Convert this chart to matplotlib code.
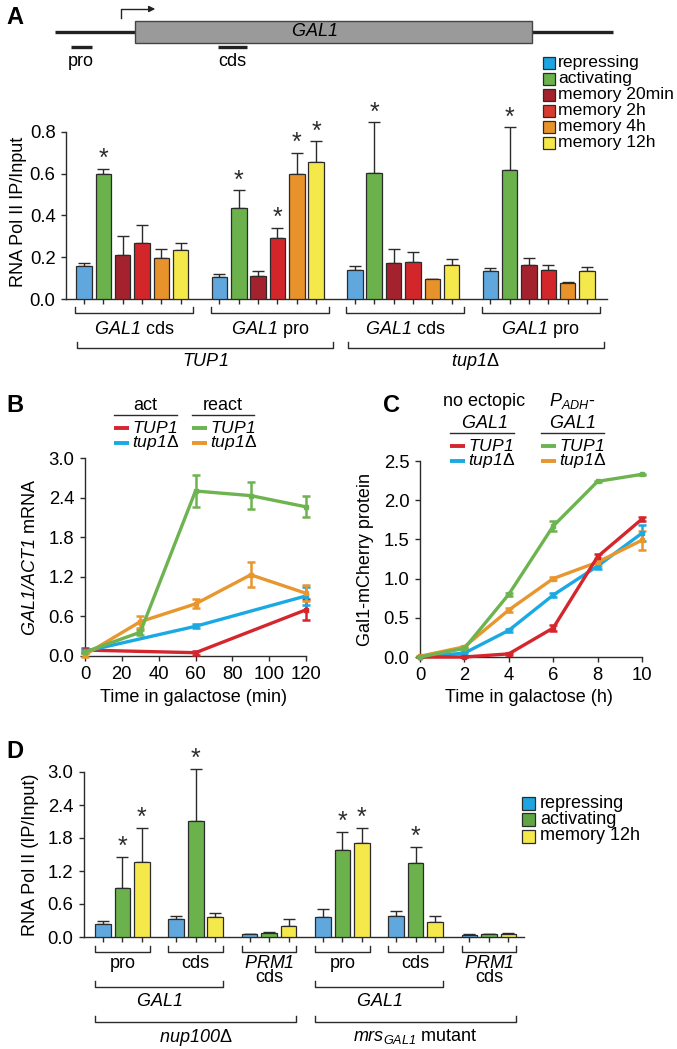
import matplotlib
matplotlib.use('Agg')
import matplotlib.pyplot as plt
import numpy as np
from matplotlib.patches import Rectangle
from matplotlib.transforms import blended_transform_factory

plt.rcParams['font.family'] = ['Liberation Sans', 'DejaVu Sans']
plt.rcParams['mathtext.fontset'] = 'custom'
plt.rcParams['mathtext.rm'] = 'Liberation Sans'
plt.rcParams['mathtext.it'] = 'Liberation Sans:italic'
plt.rcParams['mathtext.sf'] = 'Liberation Sans:italic'
plt.rcParams['mathtext.bf'] = 'Liberation Sans:bold'
plt.rcParams['font.size'] = 13

W, H = 677, 1049
INK = '#2b2b2b'

# ---- panel A : Pol II ChIP, TUP1 vs tup1 ----
a_conditions = ['repressing', 'activating', 'memory 20min', 'memory 2h', 'memory 4h', 'memory 12h']
a_sites = [r'$\mathsf{GAL1}$ cds', r'$\mathsf{GAL1}$ pro', r'$\mathsf{GAL1}$ cds', r'$\mathsf{GAL1}$ pro']
a_strains = [r'$\mathsf{TUP1}$', r'$\mathsf{tup1}$Δ']
a_repressing = [0.160, 0.107, 0.138, 0.134]
a_activating = [0.598, 0.435, 0.605, 0.618]
a_mem20 = [0.213, 0.110, 0.173, 0.162]
a_mem2h = [0.267, 0.294, 0.178, 0.138]
a_mem4h = [0.198, 0.597, 0.094, 0.078]
a_mem12h = [0.235, 0.658, 0.162, 0.136]
a_err_repressing = [0.014, 0.013, 0.019, 0.016]
a_err_activating = [0.026, 0.085, 0.241, 0.204]
a_err_mem20 = [0.087, 0.024, 0.067, 0.033]
a_err_mem2h = [0.088, 0.048, 0.048, 0.027]
a_err_mem4h = [0.042, 0.103, 0.004, 0.004]
a_err_mem12h = [0.035, 0.097, 0.032, 0.019]
# groups with a significance star, per condition
a_sig = [[], [0, 1, 2, 3], [], [1], [1], [1]]

# ---- panel B : GAL1/ACT1 mRNA ----
b_t_act = [0, 60, 120]
b_act_TUP1 = [0.09, 0.05, 0.70]
b_act_TUP1_err = [0.03, 0.03, 0.16]
b_act_tup1 = [0.07, 0.45, 0.91]
b_act_tup1_err = [0.03, 0.03, 0.13]
b_t_react = [0, 30, 60, 90, 120]
b_react_TUP1 = [0.06, 0.36, 2.50, 2.43, 2.26]
b_react_TUP1_err = [0.02, 0.04, 0.24, 0.20, 0.16]
b_react_tup1 = [0.02, 0.52, 0.79, 1.23, 0.95]
b_react_tup1_err = [0.03, 0.09, 0.07, 0.19, 0.12]

# ---- panel C : Gal1-mCherry protein ----
c_t = [0, 2, 4, 6, 8, 10]
c_no_TUP1 = [0.00, 0.00, 0.04, 0.37, 1.28, 1.76]
c_no_TUP1_err = [0.0, 0.0, 0.01, 0.04, 0.04, 0.03]
c_no_tup1 = [0.00, 0.05, 0.34, 0.79, 1.16, 1.58]
c_no_tup1_err = [0.0, 0.01, 0.02, 0.02, 0.04, 0.10]
c_adh_TUP1 = [0.00, 0.11, 0.80, 1.67, 2.24, 2.33]
c_adh_TUP1_err = [0.0, 0.01, 0.02, 0.06, 0.01, 0.01]
c_adh_tup1 = [0.01, 0.13, 0.60, 1.00, 1.21, 1.49]
c_adh_tup1_err = [0.0, 0.01, 0.02, 0.02, 0.05, 0.12]

# ---- panel D : Pol II ChIP, nup100 / mrs mutant ----
d_conditions = ['repressing', 'activating', 'memory 12h']
d_repressing = [0.24, 0.32, 0.05, 0.36, 0.38, 0.04]
d_activating = [0.90, 2.11, 0.08, 1.59, 1.35, 0.05]
d_mem12h = [1.37, 0.36, 0.20, 1.71, 0.27, 0.06]
d_err_repressing = [0.05, 0.07, 0.01, 0.15, 0.09, 0.01]
d_err_activating = [0.55, 0.94, 0.02, 0.32, 0.29, 0.01]
d_err_mem12h = [0.61, 0.08, 0.12, 0.28, 0.12, 0.02]
d_sig = [[], [0, 1, 3, 4], [0, 3]]

a_colors = ['#5fa7dd', '#6bb14c', '#a3222d', '#d3262b', '#e8922b', '#f5e84a']
a_leg_colors = ['#1ca5e0', '#6bb14c', '#a3222d', '#d93a30', '#e8922b', '#f5e84a']
d_colors = ['#5fa7dd', '#6bb14c', '#f5e84a']
d_leg_colors = ['#1ca5e0', '#5fa544', '#f5e84a']
RED, BLUE, GREEN, ORANGE = '#d4262c', '#1aa9e3', '#6db34f', '#e8962e'


def box(l, t, r, b):
    return [l / W, 1 - b / H, (r - l) / W, (b - t) / H]


fig = plt.figure(figsize=(W / 100, H / 100), dpi=100)
ov = fig.add_axes([0, 0, 1, 1])
ov.set_xlim(0, W)
ov.set_ylim(H, 0)
ov.axis('off')
ov.set_zorder(10)


def style(ax):
    ax.patch.set_visible(False)
    for s in ['top', 'right']:
        ax.spines[s].set_visible(False)
    for s in ['left', 'bottom']:
        ax.spines[s].set_color(INK)
        ax.spines[s].set_linewidth(1)
    ax.tick_params(direction='out', length=3.5, width=1, color=INK, pad=4, labelsize=13.3)


def bracket(ax, x0, x1, y, h=6):
    tr = blended_transform_factory(ax.transData, ov.transData)
    ov.plot([x0, x0, x1, x1], [y - h, y, y, y - h], transform=tr, color=INK, lw=1, clip_on=False)


def blabel(ax, x, y, s):
    tr = blended_transform_factory(ax.transData, ov.transData)
    ov.text(x, y, s, transform=tr, ha='center', va='center', fontsize=13)


def bars(ax, vals, errs, colors, sig, step):
    for i, (v, e, c) in enumerate(zip(vals, errs, colors)):
        x = np.arange(len(v)) * step + i
        ax.bar(x, v, 0.8, color=c, edgecolor=INK, lw=0.9, zorder=3)
        eb = ax.errorbar(x, v, yerr=[np.zeros(len(v)), e], fmt='none', ecolor=INK,
                         elinewidth=1, capsize=4, capthick=1, zorder=2)
        for art in list(eb.lines[1]) + list(eb.lines[2]):
            art.set_clip_on(False)
        for g in sig[i]:
            ax.annotate('*', (x[g], v[g] + e[g]), xytext=(0, -1.5), textcoords='offset points',
                        ha='center', va='bottom', fontsize=18, color=INK, annotation_clip=False)


# ================= A =================
ov.text(15, 18, 'A', fontsize=17, fontweight='bold', ha='center', va='center')
ov.plot([55, 613], [32, 32], color='#222222', lw=2.4, solid_capstyle='butt')
ov.add_patch(Rectangle((135, 21), 397, 22, facecolor='#9a9a9a', edgecolor='#444444', lw=1, zorder=3))
ov.text(314, 32, r'$\mathsf{GAL1}$', ha='center', va='center', fontsize=13, zorder=4)
ov.plot([121, 121, 150], [18, 9, 9], color='#222222', lw=1)
ov.annotate('', xy=(158, 9), xytext=(148, 9),
            arrowprops=dict(arrowstyle='-|>', color='#222222', lw=1, mutation_scale=9))
ov.plot([71, 92], [47, 47], color='#222222', lw=2.4, solid_capstyle='butt')
ov.plot([218, 247], [47, 47], color='#222222', lw=2.4, solid_capstyle='butt')
ov.text(81, 61, 'pro', ha='center', va='center')
ov.text(232, 61, 'cds', ha='center', va='center')
for i, (lab, c) in enumerate(zip(a_conditions, a_leg_colors)):
    y = 63 + 16.0 * i
    ov.add_patch(Rectangle((543, y - 6), 12, 12, facecolor=c, edgecolor=INK, lw=0.9))
    ov.text(558, y, lab, ha='left', va='center', fontsize=12.6)

axA = fig.add_axes(box(66, 132, 607, 299))
style(axA)
stepA = 7
bars(axA, [a_repressing, a_activating, a_mem20, a_mem2h, a_mem4h, a_mem12h],
     [a_err_repressing, a_err_activating, a_err_mem20, a_err_mem2h, a_err_mem4h, a_err_mem12h],
     a_colors, a_sig, stepA)
axA.set_xlim(-0.93, 27.03)
axA.set_ylim(0, 0.8)
axA.set_yticks(np.arange(0, 0.81, 0.2))
axA.set_yticklabels(['%.1f' % v for v in np.arange(0, 0.81, 0.2)])
axA.set_xticks([g * stepA + i for g in range(len(a_sites)) for i in range(len(a_conditions))])
axA.tick_params(axis='x', labelbottom=False)
ov.text(19, 212, 'RNA Pol II IP/Input', rotation=90, ha='center', va='center')
for g, lab in enumerate(a_sites):
    x0, x1 = g * stepA - 0.45, g * stepA + 5.65
    bracket(axA, x0, x1, 313)
    blabel(axA, (x0 + x1) / 2, 329, lab)
for k, lab in enumerate(a_strains):
    x0, x1 = 2 * k * stepA - 0.36, 2 * k * stepA + 12.85
    bracket(axA, x0, x1, 348)
    blabel(axA, (x0 + x1) / 2, 361, lab)

# ================= B =================
ov.text(15, 406, 'B', fontsize=17, fontweight='bold', ha='center', va='center')
axB = fig.add_axes(box(85, 458, 306, 656))
style(axB)
for t, v, e, c in [(b_t_act, b_act_TUP1, b_act_TUP1_err, RED),
                   (b_t_act, b_act_tup1, b_act_tup1_err, BLUE),
                   (b_t_react, b_react_tup1, b_react_tup1_err, ORANGE),
                   (b_t_react, b_react_TUP1, b_react_TUP1_err, GREEN)]:
    axB.errorbar(t, v, yerr=e, color=c, lw=2.4, marker='s', ms=3, capsize=3,
                 elinewidth=1.8, capthick=1.8, clip_on=False, zorder=3)
axB.set_xlim(0, 120)
axB.set_ylim(0, 3.0)
axB.set_xticks(range(0, 121, 20))
axB.set_yticks(np.arange(0, 3.01, 0.6))
axB.set_yticklabels(['%.1f' % v for v in np.arange(0, 3.01, 0.6)])
ov.text(31, 557, r'$\mathsf{GAL1/ACT1}$ mRNA', rotation=90, ha='center', va='center')
ov.text(194, 697, 'Time in galactose (min)', ha='center', va='center')
# legend
ov.text(145, 405, 'act', ha='center', va='center')
ov.text(223, 405, 'react', ha='center', va='center')
ov.plot([114, 177], [415, 415], color=INK, lw=1)
ov.plot([192, 254], [415, 415], color=INK, lw=1)
for x0, y, c, lab in [(114, 428, RED, r'$\mathsf{TUP1}$'), (114, 443, BLUE, r'$\mathsf{tup1}$Δ'),
                      (192, 428, GREEN, r'$\mathsf{TUP1}$'), (192, 443, ORANGE, r'$\mathsf{tup1}$Δ')]:
    ov.plot([x0, x0 + 15], [y, y], color=c, lw=2.8, solid_capstyle='butt')
    ov.text(x0 + 18, y, lab, ha='left', va='center', fontsize=12.6)

# ================= C =================
ov.text(392, 406, 'C', fontsize=17, fontweight='bold', ha='center', va='center')
axC = fig.add_axes(box(420, 461, 642, 657))
style(axC)
for v, e, c in [(c_no_tup1, c_no_tup1_err, BLUE), (c_adh_tup1, c_adh_tup1_err, ORANGE),
                (c_no_TUP1, c_no_TUP1_err, RED), (c_adh_TUP1, c_adh_TUP1_err, GREEN)]:
    axC.errorbar(c_t, v, yerr=e, color=c, lw=2.4, marker='s', ms=3, capsize=3,
                 elinewidth=1.8, capthick=1.8, clip_on=False, zorder=3)
axC.set_xlim(0, 10)
axC.set_ylim(0, 2.5)
axC.set_xticks(range(0, 11, 2))
axC.set_yticks(np.arange(0, 2.51, 0.5))
axC.set_yticklabels(['%.1f' % v for v in np.arange(0, 2.51, 0.5)])
ov.text(366, 559, 'Gal1-mCherry protein', rotation=90, ha='center', va='center')
ov.text(529, 697, 'Time in galactose (h)', ha='center', va='center')
ov.text(484, 401, 'no ectopic', ha='center', va='center')
ov.text(484, 423, r'$\mathsf{GAL1}$', ha='center', va='center')
ov.text(572, 401, r'$\mathsf{P}_{\mathsf{ADH}}$-', ha='center', va='center')
ov.text(572, 423, r'$\mathsf{GAL1}$', ha='center', va='center')
ov.plot([450, 514], [433, 433], color=INK, lw=1)
ov.plot([541, 604], [433, 433], color=INK, lw=1)
for x0, y, c, lab in [(450, 446, RED, r'$\mathsf{TUP1}$'), (450, 461, BLUE, r'$\mathsf{tup1}$Δ'),
                      (541, 446, GREEN, r'$\mathsf{TUP1}$'), (541, 461, ORANGE, r'$\mathsf{tup1}$Δ')]:
    ov.plot([x0, x0 + 15], [y, y], color=c, lw=2.8, solid_capstyle='butt')
    ov.text(x0 + 18, y, lab, ha='left', va='center', fontsize=12.6)

# ================= D =================
ov.text(15, 751, 'D', fontsize=17, fontweight='bold', ha='center', va='center')
axD = fig.add_axes(box(84, 772, 524, 937))
style(axD)
stepD = 3.76
bars(axD, [d_repressing, d_activating, d_mem12h],
     [d_err_repressing, d_err_activating, d_err_mem12h], d_colors, d_sig, stepD)
axD.set_xlim(-0.97, 21.6)
axD.set_ylim(0, 3.0)
axD.set_yticks(np.arange(0, 3.01, 0.6))
axD.set_yticklabels(['%.1f' % v for v in np.arange(0, 3.01, 0.6)])
axD.set_xticks([g * stepD + i for g in range(6) for i in range(3)])
axD.tick_params(axis='x', labelbottom=False)
ov.text(31, 855, 'RNA Pol II (IP/Input)', rotation=90, ha='center', va='center')
for i, c in enumerate(d_conditions):
    y = 803 + 16.5 * i
    ov.add_patch(Rectangle((522, y - 6.5), 13, 13, facecolor=d_leg_colors[i], edgecolor=INK, lw=0.9))
    ov.text(540, y, c, ha='left', va='center')
d_sites = ['pro', 'cds', None, 'pro', 'cds', None]
for g, lab in enumerate(d_sites):
    x0, x1 = g * stepD - 0.4, g * stepD + 2.4
    bracket(axD, x0, x1, 952)
    if lab:
        blabel(axD, (x0 + x1) / 2, 963, lab)
    else:
        blabel(axD, (x0 + x1) / 2, 963, r'$\mathsf{PRM1}$')
        blabel(axD, (x0 + x1) / 2, 978, 'cds')
for k in range(2):
    x0, x1 = 3 * k * stepD - 0.4, (3 * k + 1) * stepD + 2.4
    bracket(axD, x0, x1, 987)
    blabel(axD, (x0 + x1) / 2, 1002, r'$\mathsf{GAL1}$')
d_strains = [r'$\mathsf{nup100}$Δ', r'$\mathsf{mrs}_{\mathsf{GAL1}}$ mutant']
for k, lab in enumerate(d_strains):
    x0, x1 = 3 * k * stepD - 0.4, (3 * k + 2) * stepD + 2.4
    bracket(axD, x0, x1, 1022)
    blabel(axD, (x0 + x1) / 2, 1037, lab)

fig.savefig('out.png', dpi=100)
